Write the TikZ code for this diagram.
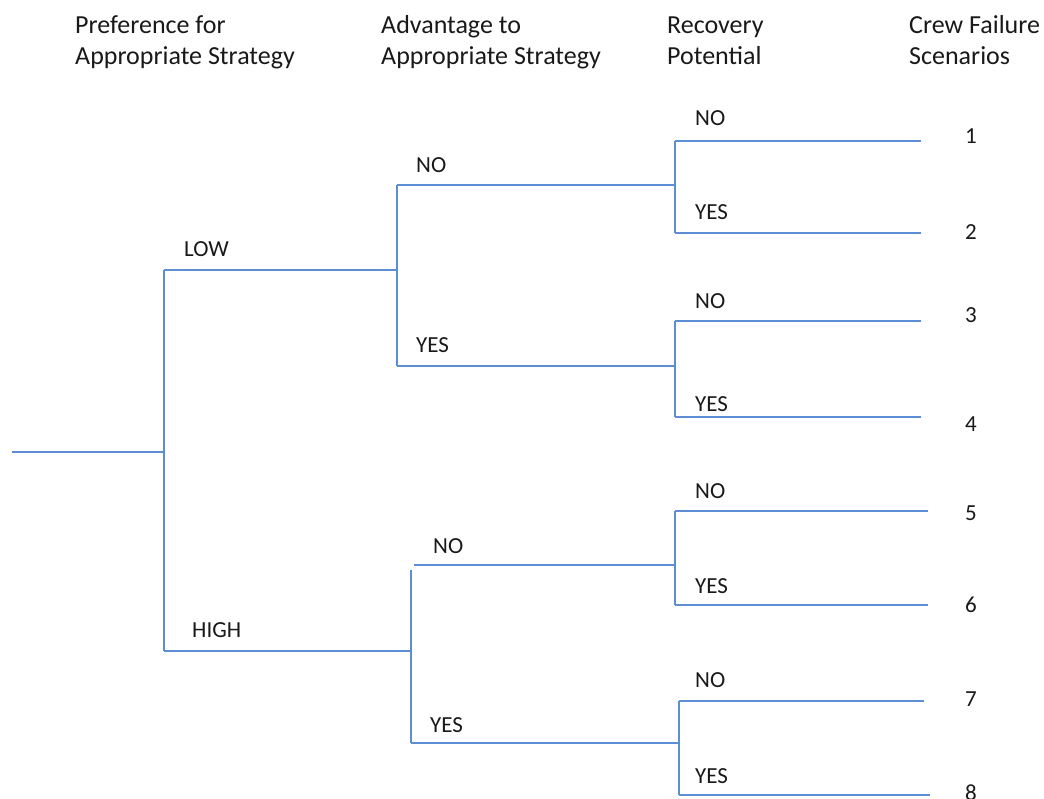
\documentclass[tikz,border=0pt]{standalone}
\usepackage{fontspec}
\setmainfont{Carlito}
\begin{document}
\begin{tikzpicture}[x=1pt,y=-1pt,
  branch/.style={draw=brblue,line width=2.9pt},
  lbl/.style={anchor=west,inner sep=0pt,text=txt,font=\fontsize{23}{31}\selectfont},
  head/.style={anchor=north west,inner sep=0pt,align=left,text=txt,font=\fontsize{26}{31}\selectfont},
  num/.style={anchor=center,inner sep=0pt,text=txt,font=\fontsize{23}{31}\selectfont}]
\definecolor{brblue}{RGB}{91,142,212}
\definecolor{txt}{RGB}{25,25,25}
\useasboundingbox (0,0) rectangle (1044,799);

% column headings
\node[head] (h1) at (75,12) {\strut Preference for\\Appropriate Strategy};
\node[head] (h2) at (381,12) {\strut Advantage to\\Appropriate Strategy};
\node[head] (h3) at (667,12) {\strut Recovery\\Potential};
\node[head] (h4) at (909,12) {\strut Crew Failure\\Scenarios};

% root and first split
\coordinate (root) at (12,452);
\coordinate (r) at (164,452);
\coordinate (rL) at (164,270);
\coordinate (rH) at (164,651);
\coordinate (L) at (397,270);
\coordinate (H) at (411,651);

% second split, LOW branch
\coordinate (Lt) at (397,185);
\coordinate (Lb) at (397,366);
\coordinate (LN) at (675,185);
\coordinate (LY) at (675,366);

% second split, HIGH branch
\coordinate (Ht) at (411,570);
\coordinate (Hb) at (411,743);
\coordinate (HNs) at (414,565);
\coordinate (HN) at (675,565);
\coordinate (HY) at (679,743);

% third split end points
\coordinate (a1) at (675,141); \coordinate (e1) at (921,141);
\coordinate (a2) at (675,233); \coordinate (e2) at (921,233);
\coordinate (a3) at (675,321); \coordinate (e3) at (921,321);
\coordinate (a4) at (675,417); \coordinate (e4) at (921,417);
\coordinate (a5) at (675,511); \coordinate (e5) at (928,511);
\coordinate (a6) at (675,605); \coordinate (e6) at (928,605);
\coordinate (a7) at (679,701); \coordinate (e7) at (924,701);
\coordinate (a8) at (679,795); \coordinate (e8) at (930,795);

% first split
\draw[branch] (root) -- (r);
\draw[branch] (rL) -- (rH);
\draw[branch] (rL) -- (L);
\draw[branch] (rH) -- (H);

% second split
\draw[branch] (Lt) -- (Lb);
\draw[branch] (Lt) -- (LN);
\draw[branch] (Lb) -- (LY);
\draw[branch] (Ht) -- (Hb);
\draw[branch] (HNs) -- (HN);
\draw[branch] (Hb) -- (HY);

% third split
\draw[branch] (a1) -- (a2);
\draw[branch] (a1) -- (e1);
\draw[branch] (a2) -- (e2);
\draw[branch] (a3) -- (a4);
\draw[branch] (a3) -- (e3);
\draw[branch] (a4) -- (e4);
\draw[branch] (a5) -- (a6);
\draw[branch] (a5) -- (e5);
\draw[branch] (a6) -- (e6);
\draw[branch] (a7) -- (a8);
\draw[branch] (a7) -- (e7);
\draw[branch] (a8) -- (e8);

% branch labels
\node[lbl] (tLOW) at (184,249) {LOW};
\node[lbl] (tHIGH) at (192,630) {HIGH};
\node[lbl] (tLN) at (416,165) {NO};
\node[lbl] (tLY) at (416,345) {YES};
\node[lbl] (tHN) at (433,546) {NO};
\node[lbl] (tHY) at (430,725) {YES};
\node[lbl] (t1) at (695,118) {NO};
\node[lbl] (t2) at (695,212) {YES};
\node[lbl] (t3) at (695,301) {NO};
\node[lbl] (t4) at (695,404) {YES};
\node[lbl] (t5) at (695,491) {NO};
\node[lbl] (t6) at (695,586) {YES};
\node[lbl] (t7) at (695,680) {NO};
\node[lbl] (t8) at (695,776) {YES};

% scenario numbers
\node[num] (n1) at (971,136) {1};
\node[num] (n2) at (971,232) {2};
\node[num] (n3) at (971,315) {3};
\node[num] (n4) at (971,424) {4};
\node[num] (n5) at (971,513) {5};
\node[num] (n6) at (971,605) {6};
\node[num] (n7) at (971,699) {7};
\node[num] (n8) at (971,793) {8};
\end{tikzpicture}
\end{document}
